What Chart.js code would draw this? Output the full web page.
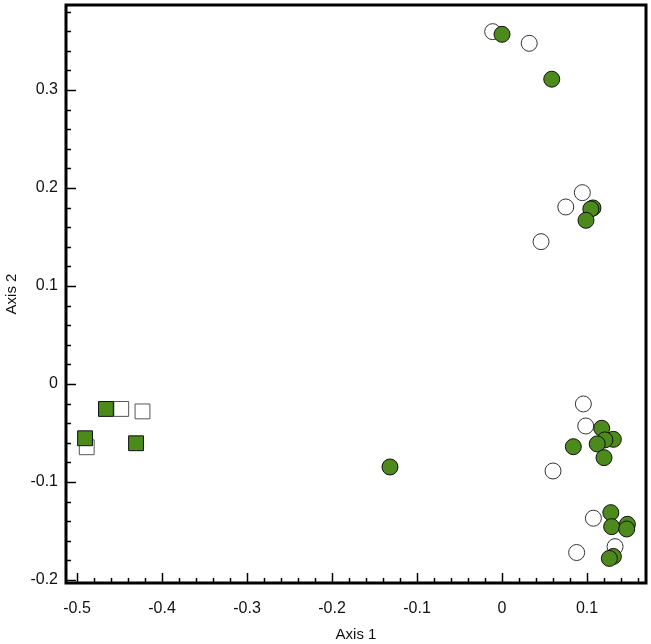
<!DOCTYPE html>
<html>
<head>
<meta charset="utf-8">
<script src="https://cdn.jsdelivr.net/npm/chart.js@4"></script>
<style>
  html, body { margin: 0; padding: 0; background: #fff; }
  #wrap { width: 651px; height: 644px; }
</style>
</head>
<body>
<div id="wrap"><canvas id="ordChart" width="651" height="644"></canvas></div>
<script>
// axis ranges and tick values
const xRange = [-0.513, 0.1694];
const yRange = [-0.2031, 0.3867];
const xTicks = [-0.5, -0.4, -0.3, -0.2, -0.1, 0, 0.1];
const yTicks = [-0.2, -0.1, 0, 0.1, 0.2, 0.3];

// green circles
const greenCircleX = [0.000, 0.0585, 0.107, 0.1045, 0.0988, 0.1173, 0.131, 0.121, 0.112, 0.0839, 0.120, -0.1318,
    0.128, 0.129, 0.1475, 0.1467, 0.131, 0.1263];
const greenCircleY = [0.3568, 0.311, 0.1796, 0.1786, 0.167, -0.0452, -0.0565, -0.0571, -0.0612, -0.064, -0.0752, -0.0847,
    -0.1313, -0.1456, -0.1432, -0.148, -0.176, -0.178];

// open circles
const openCircleX = [-0.011, 0.032, 0.0945, 0.075, 0.0459, 0.0957, 0.0985, 0.060, 0.1075, 0.133, 0.0878];
const openCircleY = [0.3595, 0.3476, 0.1952, 0.1806, 0.1452, -0.0204, -0.0429, -0.0888, -0.137, -0.166, -0.172];

// green squares
const greenSquareX = [-0.466, -0.4906, -0.4306];
const greenSquareY = [-0.0255, -0.0554, -0.0605];

// open squares
const openSquareX = [-0.448, -0.423, -0.4886];
const openSquareY = [-0.0255, -0.028, -0.0646];

function toPoints(xs, ys){
    return xs.map((x, i) => ({x: x, y: ys[i]}));
}

function tickLabel(v){
    if(Math.abs(v) < 1e-9) return "0";
    return v.toFixed(1);
}

function noPadding(s){
    s.paddingTop = 0;
    s.paddingBottom = 0;
    s.paddingLeft = 0;
    s.paddingRight = 0;
}

const GREEN = "#4b8a1b";

// frame and inward tick marks
const framePlugin = {
    id: "frame",
    afterDraw(chart){
        const ctx = chart.ctx;
        const a = chart.chartArea;
        const xs = chart.scales.x;
        const ys = chart.scales.y;
        ctx.save();
        ctx.strokeStyle = "#000";
        ctx.lineWidth = 1.5;
        for(let i = 0; i <= 35; i++){
            const v = -0.5 + i * 0.02;
            if(v > xRange[1]) break;
            const px = Math.round(xs.getPixelForValue(v)) + 0.5;
            const len = (i % 5 === 0) ? 10 : 5;
            ctx.beginPath();
            ctx.moveTo(px, a.bottom);
            ctx.lineTo(px, a.bottom - len);
            ctx.stroke();
        }
        for(let i = 0; i <= 30; i++){
            const v = -0.2 + i * 0.02;
            if(v > yRange[1]) break;
            const py = Math.round(ys.getPixelForValue(v)) + 0.5;
            const len = (i % 5 === 0) ? 10 : 5;
            ctx.beginPath();
            ctx.moveTo(a.left, py);
            ctx.lineTo(a.left + len, py);
            ctx.stroke();
        }
        ctx.lineWidth = 3;
        ctx.strokeRect(a.left, a.top, a.right - a.left, a.bottom - a.top);
        ctx.restore();
    }
};

const tickFont = {family: "'Liberation Sans', Arial, sans-serif", size: 16};
const titleFont = {family: "'Liberation Sans', Arial, sans-serif", size: 15};

new Chart(document.getElementById("ordChart").getContext("2d"), {
    type: "scatter",
    data: {
        datasets: [
            {
                label: "green circles",
                data: toPoints(greenCircleX, greenCircleY),
                pointStyle: "circle",
                pointRadius: 8,
                pointHoverRadius: 8,
                backgroundColor: GREEN,
                borderColor: "#111",
                borderWidth: 1
            },
            {
                label: "green squares",
                data: toPoints(greenSquareX, greenSquareY),
                pointStyle: "rect",
                pointRadius: 10.5,
                pointHoverRadius: 10.5,
                backgroundColor: GREEN,
                borderColor: "#111",
                borderWidth: 1
            },
            {
                label: "open circles",
                data: toPoints(openCircleX, openCircleY),
                pointStyle: "circle",
                pointRadius: 8,
                pointHoverRadius: 8,
                backgroundColor: "#fff",
                borderColor: "#333",
                borderWidth: 1
            },
            {
                label: "open squares",
                data: toPoints(openSquareX, openSquareY),
                pointStyle: "rect",
                pointRadius: 10.5,
                pointHoverRadius: 10.5,
                backgroundColor: "#fff",
                borderColor: "#555",
                borderWidth: 1
            }
        ]
    },
    options: {
        responsive: false,
        animation: false,
        layout: {autoPadding: false, padding: {top: 5, right: 5, left: 0, bottom: 0}},
        plugins: {
            legend: {display: false},
            tooltip: {enabled: false}
        },
        scales: {
            x: {
                type: "linear",
                min: xRange[0],
                max: xRange[1],
                grid: {display: false, drawTicks: false},
                border: {display: false},
                afterBuildTicks: s => { s.ticks = xTicks.map(v => ({value: v})); },
                afterFit: s => { s.height = 61; noPadding(s); },
                ticks: {
                    font: tickFont,
                    color: "#111",
                    padding: 16,
                    maxRotation: 0,
                    callback: v => tickLabel(v)
                },
                title: {
                    display: true,
                    text: "Axis 1",
                    font: titleFont,
                    color: "#111",
                    padding: {top: 3, bottom: 0}
                }
            },
            y: {
                type: "linear",
                min: yRange[0],
                max: yRange[1],
                grid: {display: false, drawTicks: false},
                border: {display: false},
                afterBuildTicks: s => { s.ticks = yTicks.map(v => ({value: v})); },
                afterFit: s => { s.width = 66; noPadding(s); },
                ticks: {
                    font: tickFont,
                    color: "#111",
                    padding: 8,
                    callback: v => tickLabel(v)
                },
                title: {
                    display: true,
                    text: "Axis 2",
                    font: titleFont,
                    color: "#111",
                    padding: {top: 3, bottom: 0}
                }
            }
        }
    },
    plugins: [framePlugin]
});
</script>
</body>
</html>
